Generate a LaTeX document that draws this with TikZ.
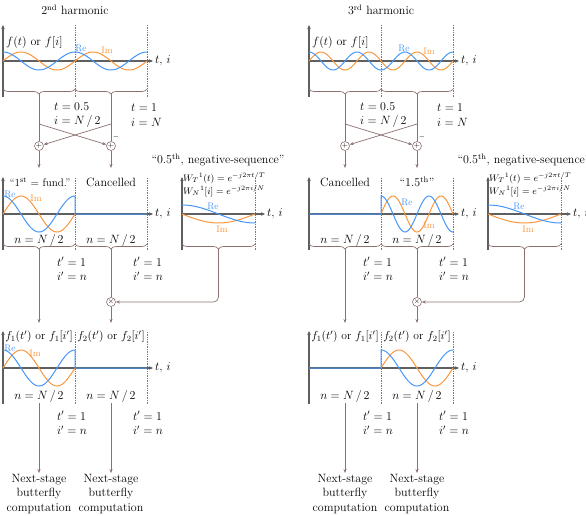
\RequirePackage{fix-cm}
\documentclass[tikz,border=0pt]{standalone}
\usepackage{tikz}
\usetikzlibrary{arrows.meta, decorations.pathreplacing}
\definecolor{reblue}{RGB}{70,150,250}
\definecolor{imorange}{RGB}{250,150,60}
\definecolor{wirebrown}{RGB}{140,112,112}
\definecolor{axgray}{RGB}{95,95,95}
\definecolor{guidegray}{RGB}{120,120,120}

\begin{document}
\begin{tikzpicture}[x=1pt, y=1pt,
  txt/.style={font=\fontsize{12}{14.5}\selectfont, inner sep=1pt},
  small/.style={font=\fontsize{9.5}{11}\selectfont, inner sep=1pt},
  ax/.style={draw=axgray, line width=1.1pt},
  axarr/.style={ax, -{Stealth[length=4pt, width=3.5pt]}},
  guide/.style={draw=guidegray, densely dotted, line width=0.7pt},
  wire/.style={draw=wirebrown, line width=0.7pt},
  warr/.style={wire, -{Stealth[length=4pt, width=3pt]}},
  brc/.style={wire, decorate, decoration={brace, mirror, amplitude=5pt}},
  re/.style={draw=reblue, line width=1pt},
  im/.style={draw=imorange, line width=1pt},
  opnode/.style={circle, draw=wirebrown, line width=0.6pt, minimum size=9pt, inner sep=0pt, font=\fontsize{7}{7}\selectfont}
]
  \useasboundingbox (0,0) rectangle (586,-515);

  % 2nd harmonic: input
  \node[txt] (ttlL) at (75,-10) {2\textsuperscript{nd} harmonic};
  \draw[axarr] (3,-97) -- (3,-25);
  \draw[guide] (75,-25) -- (75,-97);
  \draw[guide] (147,-25) -- (147,-97);
  \draw[axarr] (3,-61) -- (153,-61);
  \draw[im] plot[domain=0:720, samples=121] ({3+\x*0.2}, {-61+9*sin(\x)});
  \draw[re] plot[domain=0:720, samples=121] ({3+\x*0.2}, {-61+9*cos(\x)});
  \node[txt, anchor=west] (tiL1) at (154,-61) {$t$, $i$};
  \node[txt, anchor=west] (fL) at (5,-42) {$f(t)$ or $f[i]$};
  \node[small, text=reblue] (reL1) at (81,-48) {Re};
  \node[small, text=imorange] (imL1) at (107,-50) {Im};

  % 2nd harmonic: butterfly
  \draw[brc] (3,-89) -- (75,-89);
  \draw[brc] (75,-89) -- (147,-89);
  \coordinate (tipL1) at (39,-94);
  \coordinate (tipL2) at (111,-94);
  \node[txt, anchor=west, align=left] (tL1) at (53,-115) {$t = 0.5$\\$i = N\,/\,2$};
  \node[txt, anchor=west, align=left] (tL2) at (130,-115) {$t = 1$\\$i = N$};
  \coordinate (spL1) at (39,-124);
  \coordinate (spL2) at (111,-124);
  \node[opnode] (addL) at (39,-146) {$+$};
  \node[opnode] (subL) at (111,-146) {$+$};
  \node[font=\fontsize{7}{7}\selectfont, inner sep=0pt] (minL) at (116,-137) {$-$};
  \draw[wire] (tipL1) -- (addL);
  \draw[wire] (tipL2) -- (subL);
  \draw[warr] (spL1) -- (subL);
  \draw[warr] (spL2) -- (addL);
  \coordinate (inL1) at (39,-168);
  \coordinate (inL2) at (111,-168);
  \draw[warr] (addL) -- (inL1);
  \draw[warr] (subL) -- (inL2);

  % 2nd harmonic: halves
  \draw[axarr] (3,-250) -- (3,-177);
  \draw[guide] (75,-178) -- (75,-250);
  \draw[guide] (147,-178) -- (147,-250);
  \draw[axarr] (3,-214) -- (153,-214);
  \draw[im] plot[domain=0:360, samples=73] ({3+\x*0.2}, {-214+18*sin(\x)});
  \draw[re] plot[domain=0:360, samples=73] ({3+\x*0.2}, {-214+18*cos(\x)}) -- (75,-214) -- (147,-214);
  \node[txt, anchor=west] (tiL2) at (154,-214) {$t$, $i$};
  \node[txt, font=\fontsize{11}{13}\selectfont] (l1L) at (40,-182) {``1\textsuperscript{st} = fund.''};
  \node[txt] (cnL) at (111,-182) {Cancelled};
  \node[small, text=reblue] (reL2) at (10,-194) {Re};
  \node[small, text=imorange] (imL2) at (36,-198) {Im};
  \draw[brc] (3,-244) -- (75,-244);
  \draw[brc] (75,-244) -- (147,-244);
  \node[txt] (nL1) at (39,-240) {$n = N\,/\,2$};
  \node[txt] (nL2) at (111,-240) {$n = N\,/\,2$};
  \coordinate (tipL3) at (39,-249);
  \coordinate (tipL4) at (111,-249);
  \node[txt, anchor=west, align=left] (tpL1) at (56,-269) {$t' = 1$\\$i' = n$};
  \node[txt, anchor=west, align=left] (tpL2) at (132,-269) {$t' = 1$\\$i' = n$};

  % 2nd harmonic: twiddle
  \node[txt] (wtL) at (218,-160) {``0.5\textsuperscript{th}, negative-sequence''};
  \draw[axarr] (182,-250) -- (182,-177);
  \draw[guide] (255,-178) -- (255,-250);
  \draw[axarr] (182,-214) -- (265,-214);
  \draw[im] plot[domain=0:180, samples=40] ({182+\x*0.4056}, {-214-9*sin(\x)});
  \draw[re] plot[domain=0:180, samples=40] ({182+\x*0.4056}, {-214+9*cos(\x)});
  \node[txt, anchor=west] (tiL3) at (266,-214) {$t$, $i$};
  \node[small, anchor=west] (wTL) at (182,-178) {$W_T{}^1(t) = e^{-j2\pi t/T}$};
  \node[small, anchor=west] (wNL) at (182,-191) {$W_N{}^1[i] = e^{-j2\pi i/N}$};
  \node[small, text=reblue] (reL3) at (213,-206) {Re};
  \node[small, text=imorange] (imL3) at (222,-229) {Im};
  \draw[brc] (182,-244) -- (255,-244);
  \coordinate (tipWL) at (218.5,-249);
  \node[opnode] (mulL) at (111,-302) {$\times$};
  \draw[wire] (tipL4) -- (mulL);
  \draw[warr, rounded corners=5pt] (tipWL) |- (mulL);
  \coordinate (inL3) at (39,-323);
  \coordinate (inL4) at (111,-323);
  \draw[warr] (tipL3) -- (inL3);
  \draw[warr] (mulL) -- (inL4);

  % 2nd harmonic: output
  \draw[axarr] (3,-404) -- (3,-331);
  \draw[guide] (75,-332) -- (75,-404);
  \draw[guide] (147,-332) -- (147,-404);
  \draw[axarr] (3,-368) -- (153,-368);
  \draw[im] plot[domain=0:360, samples=73] ({3+\x*0.2}, {-368+18*sin(\x)});
  \draw[re] plot[domain=0:360, samples=73] ({3+\x*0.2}, {-368+18*cos(\x)}) -- (75,-368) -- (147,-368);
  \node[txt, anchor=west] (tiL4) at (154,-368) {$t$, $i$};
  \node[txt, font=\fontsize{11.5}{13}\selectfont] (f1L) at (39,-337) {$f_1(t')$ or $f_1[i']$};
  \node[txt, font=\fontsize{11.5}{13}\selectfont] (f2L) at (111,-337) {$f_2(t')$ or $f_2[i']$};
  \node[small, text=reblue] (reL4) at (10,-348) {Re};
  \node[small, text=imorange] (imL4) at (35,-353) {Im};
  \node[txt] (mL1) at (39,-396) {$n = N\,/\,2$};
  \node[txt] (mL2) at (111,-396) {$n = N\,/\,2$};
  \node[txt, anchor=west, align=left] (tqL1) at (56,-423) {$t' = 1$\\$i' = n$};
  \node[txt, anchor=west, align=left] (tqL2) at (132,-423) {$t' = 1$\\$i' = n$};
  \node[txt, align=center] (nxL1) at (39,-494) {Next-stage\\butterfly\\computation};
  \node[txt, align=center] (nxL2) at (111,-494) {Next-stage\\butterfly\\computation};
  \draw[warr] (mL1) -- (nxL1);
  \draw[warr] (mL2) -- (nxL2);

  \begin{scope}[xshift=306pt]
    % 3rd harmonic: input
    \node[txt] (ttlR) at (75,-10) {3\textsuperscript{rd} harmonic};
    \draw[axarr] (3,-97) -- (3,-25);
    \draw[guide] (75,-25) -- (75,-97);
    \draw[guide] (147,-25) -- (147,-97);
    \draw[axarr] (3,-61) -- (153,-61);
    \draw[im] plot[domain=0:1080, samples=161] ({3+\x/7.5}, {-61+9*sin(\x)});
    \draw[re] plot[domain=0:1080, samples=161] ({3+\x/7.5}, {-61+9*cos(\x)});
    \node[txt, anchor=west] (tiR1) at (154,-61) {$t$, $i$};
    \node[txt, anchor=west] (fR) at (5,-42) {$f(t)$ or $f[i]$};
    \node[small, text=reblue] (reR1) at (98,-48) {Re};
    \node[small, text=imorange] (imR1) at (123,-51) {Im};

    % 3rd harmonic: butterfly
    \draw[brc] (3,-89) -- (75,-89);
    \draw[brc] (75,-89) -- (147,-89);
    \coordinate (tipR1) at (39,-94);
    \coordinate (tipR2) at (111,-94);
    \node[txt, anchor=west, align=left] (tR1) at (53,-115) {$t = 0.5$\\$i = N\,/\,2$};
    \node[txt, anchor=west, align=left] (tR2) at (130,-115) {$t = 1$\\$i = N$};
    \coordinate (spR1) at (39,-124);
    \coordinate (spR2) at (111,-124);
    \node[opnode] (addR) at (39,-146) {$+$};
    \node[opnode] (subR) at (111,-146) {$+$};
    \node[font=\fontsize{7}{7}\selectfont, inner sep=0pt] (minR) at (116,-137) {$-$};
    \draw[wire] (tipR1) -- (addR);
    \draw[wire] (tipR2) -- (subR);
    \draw[warr] (spR1) -- (subR);
    \draw[warr] (spR2) -- (addR);
    \coordinate (inR1) at (39,-168);
    \coordinate (inR2) at (111,-168);
    \draw[warr] (addR) -- (inR1);
    \draw[warr] (subR) -- (inR2);

    % 3rd harmonic: halves
    \draw[axarr] (3,-250) -- (3,-177);
    \draw[guide] (75,-178) -- (75,-250);
    \draw[guide] (147,-178) -- (147,-250);
    \draw[axarr] (3,-214) -- (153,-214);
    \draw[im] plot[domain=0:540, samples=91] ({75+\x/7.5}, {-214+18*sin(\x)});
    \draw[re] (3,-214) -- (75,-214) -- plot[domain=0:540, samples=91] ({75+\x/7.5}, {-214+18*cos(\x)});
    \node[txt, anchor=west] (tiR2) at (154,-214) {$t$, $i$};
    \node[txt] (cnR) at (39,-182) {Cancelled};
    \node[txt] (l15R) at (111,-182) {``1.5\textsuperscript{th}''};
    \node[small, text=reblue] (reR2) at (101,-202) {Re};
    \node[small, text=imorange] (imR2) at (123,-225) {Im};
    \draw[brc] (3,-244) -- (75,-244);
    \draw[brc] (75,-244) -- (147,-244);
    \node[txt] (nR1) at (39,-240) {$n = N\,/\,2$};
    \node[txt] (nR2) at (111,-240) {$n = N\,/\,2$};
    \coordinate (tipR3) at (39,-249);
    \coordinate (tipR4) at (111,-249);
    \node[txt, anchor=west, align=left] (tpR1) at (56,-269) {$t' = 1$\\$i' = n$};
    \node[txt, anchor=west, align=left] (tpR2) at (132,-269) {$t' = 1$\\$i' = n$};

    % 3rd harmonic: twiddle
    \node[txt] (wtR) at (218,-160) {``0.5\textsuperscript{th}, negative-sequence''};
    \draw[axarr] (182,-250) -- (182,-177);
    \draw[guide] (255,-178) -- (255,-250);
    \draw[axarr] (182,-214) -- (265,-214);
    \draw[im] plot[domain=0:180, samples=40] ({182+\x*0.4056}, {-214-9*sin(\x)});
    \draw[re] plot[domain=0:180, samples=40] ({182+\x*0.4056}, {-214+9*cos(\x)});
    \node[txt, anchor=west] (tiR3) at (266,-214) {$t$, $i$};
    \node[small, anchor=west] (wTR) at (182,-178) {$W_T{}^1(t) = e^{-j2\pi t/T}$};
    \node[small, anchor=west] (wNR) at (182,-191) {$W_N{}^1[i] = e^{-j2\pi i/N}$};
    \node[small, text=reblue] (reR3) at (213,-206) {Re};
    \node[small, text=imorange] (imR3) at (222,-229) {Im};
    \draw[brc] (182,-244) -- (255,-244);
    \coordinate (tipWR) at (218.5,-249);
    \node[opnode] (mulR) at (111,-302) {$\times$};
    \draw[wire] (tipR4) -- (mulR);
    \draw[warr, rounded corners=5pt] (tipWR) |- (mulR);
    \coordinate (inR3) at (39,-323);
    \coordinate (inR4) at (111,-323);
    \draw[warr] (tipR3) -- (inR3);
    \draw[warr] (mulR) -- (inR4);

    % 3rd harmonic: output
    \draw[axarr] (3,-404) -- (3,-331);
    \draw[guide] (75,-332) -- (75,-404);
    \draw[guide] (147,-332) -- (147,-404);
    \draw[axarr] (3,-368) -- (153,-368);
    \draw[im] plot[domain=0:360, samples=73] ({75+\x*0.2}, {-368+18*sin(\x)});
    \draw[re] (3,-368) -- (75,-368) -- plot[domain=0:360, samples=73] ({75+\x*0.2}, {-368+18*cos(\x)});
    \node[txt, anchor=west] (tiR4) at (154,-368) {$t$, $i$};
    \node[txt, font=\fontsize{11.5}{13}\selectfont] (f1R) at (39,-337) {$f_1(t')$ or $f_1[i']$};
    \node[txt, font=\fontsize{11.5}{13}\selectfont] (f2R) at (111,-337) {$f_2(t')$ or $f_2[i']$};
    \node[txt] (mR1) at (39,-396) {$n = N\,/\,2$};
    \node[txt] (mR2) at (111,-396) {$n = N\,/\,2$};
    \node[txt, anchor=west, align=left] (tqR1) at (56,-423) {$t' = 1$\\$i' = n$};
    \node[txt, anchor=west, align=left] (tqR2) at (132,-423) {$t' = 1$\\$i' = n$};
    \node[txt, align=center] (nxR1) at (39,-494) {Next-stage\\butterfly\\computation};
    \node[txt, align=center] (nxR2) at (111,-494) {Next-stage\\butterfly\\computation};
    \draw[warr] (mR1) -- (nxR1);
    \draw[warr] (mR2) -- (nxR2);
  \end{scope}
\end{tikzpicture}
\end{document}
